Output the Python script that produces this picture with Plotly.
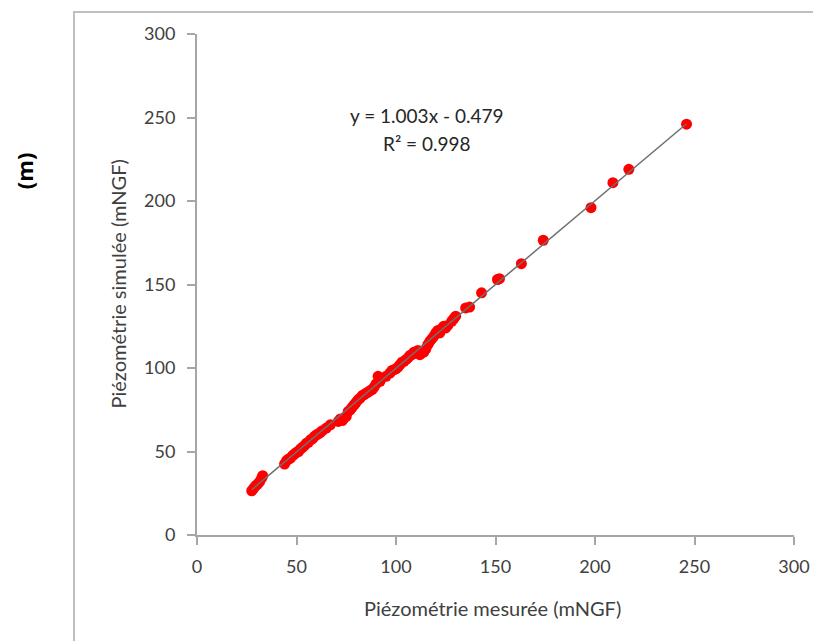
import plotly.graph_objects as go

# Data
measured = [27.5, 28.5, 29.5, 30.5, 31.5, 32.5, 33.0,
            44, 45, 46, 47, 48, 49, 50, 51, 52, 53, 54, 55, 56, 57, 58, 59, 60, 61, 62, 63, 65, 67,
            71, 72, 73, 74, 75, 76, 77, 78, 79, 80, 81, 82, 83, 84, 85, 86, 87, 88, 89, 90, 91, 92,
            95, 97, 98, 99, 100, 101, 102, 103, 104, 105, 106, 107, 108, 109, 110, 111, 112, 113,
            114, 115, 116, 117, 118, 119, 120, 121, 122, 123, 124, 125, 126, 128, 129, 130,
            135, 137, 143, 151, 152, 163, 174, 198, 209, 217, 246]
simulated = [26.5, 28, 29.5, 30.5, 32, 34, 35.5,
             42.5, 44.5, 45.5, 46, 47.5, 48.5, 49.5, 50, 51.5, 52.5, 53.5, 55, 55.5, 57, 57.5, 59, 60, 60.5, 61.5, 62.5, 64, 66,
             68, 69.5, 68.5, 70, 71, 74, 75, 76.5, 78, 79.5, 81, 82, 83.5, 84, 85, 85.5, 86.5, 87, 88.5, 90.5, 95, 92,
             95, 97, 98.5, 99, 99.5, 100.5, 102, 103.5, 104, 105, 106, 107.5, 108, 109.5, 109, 110.5, 108, 110,
             109.5, 111.5, 114, 116, 117.5, 119, 121, 122.5, 121, 123.5, 125, 124, 125.5, 128, 129.5, 131,
             136, 136.5, 145, 153, 153.5, 162.5, 176.5, 196, 211, 219, 246]
slope = 1.003
intercept = -0.479
tick_vals = [0, 50, 100, 150, 200, 250, 300]

xmin, xmax = min(measured), max(measured)
fit_x = [xmin, xmax]
fit_y = [slope * v + intercept for v in fit_x]

fig = go.Figure()
fig.add_trace(go.Scatter(x=measured, y=simulated, mode="markers",
                         marker=dict(color="#ff0000", size=11, line=dict(width=0)),
                         showlegend=False))
fig.add_trace(go.Scatter(x=fit_x, y=fit_y, mode="lines",
                         line=dict(color="#6f6f6f", width=1.5), showlegend=False))

axis_common = dict(range=[0, 300], tickvals=tick_vals, showgrid=False, zeroline=False,
                   showline=True, linecolor="#a6a6a6", linewidth=2,
                   ticks="outside", ticklen=8, tickcolor="#a6a6a6", tickwidth=2,
                   tickfont=dict(family="Lato, Open Sans, sans-serif", size=18, color="#404040"))
fig.update_xaxes(**axis_common, ticklabelstandoff=6)
fig.update_yaxes(**axis_common, ticklabelstandoff=8)

fnt = dict(family="Lato, Open Sans, sans-serif", size=20, color="#404040")
fig.update_layout(
    width=813, height=633,
    margin=dict(l=189, r=27, t=26, b=106),
    paper_bgcolor="white", plot_bgcolor="white",
    shapes=[dict(type="rect", xref="paper", yref="paper",
                 x0=-0.206, y0=-0.3, x1=1.2, y1=1.044,
                 line=dict(color="#bfbfbf", width=2), fillcolor="rgba(0,0,0,0)", layer="below")],
    annotations=[
        dict(text="Piézométrie mesurée (mNGF)", xref="paper", yref="paper", x=0.495, y=-0.146,
             showarrow=False, font=fnt, xanchor="center", yanchor="middle"),
        dict(text="Piézométrie simulée (mNGF)", xref="paper", yref="paper", x=-0.134, y=0.5,
             showarrow=False, font=fnt, textangle=-90, xanchor="center", yanchor="middle"),
        dict(text="<b>(m)</b>", xref="paper", yref="paper", x=-0.29, y=0.728,
             showarrow=False, font=dict(family="Open Sans, sans-serif", size=22, color="#000000"),
             textangle=-90, xanchor="center", yanchor="middle"),
        dict(text="y = 1.003x - 0.479", x=115.1, y=251.5, xref="x", yref="y", showarrow=False,
             font=dict(family="Lato, Open Sans, sans-serif", size=19, color="#262626")),
        dict(text="R² = 0.998", x=115.6, y=234.7, xref="x", yref="y", showarrow=False,
             font=dict(family="Lato, Open Sans, sans-serif", size=19, color="#262626")),
    ],
)

fig.write_html("out.html")
